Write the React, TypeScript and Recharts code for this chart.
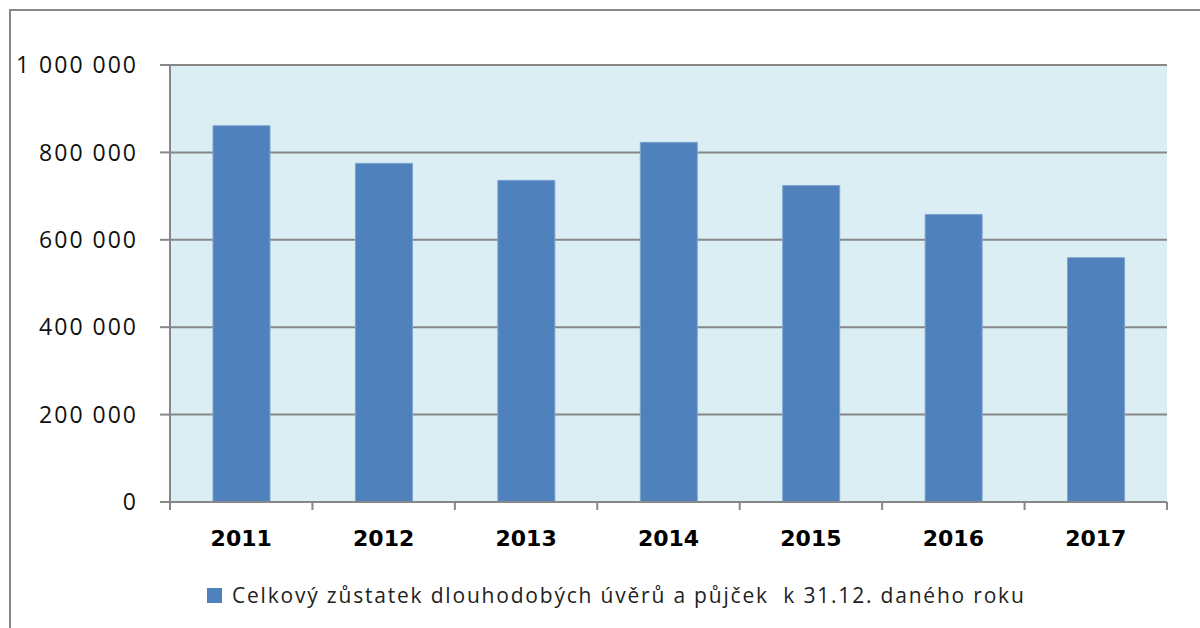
import { Bar, BarChart, CartesianGrid, Legend, XAxis, YAxis } from 'recharts';

const years = ['2011', '2012', '2013', '2014', '2015', '2016', '2017'];
const balances = [861000, 775000, 736000, 823000, 724000, 658000, 559000];
const yTicks = [0, 200000, 400000, 600000, 800000, 1000000];
const seriesName = 'Celkový zůstatek dlouhodobých úvěrů a půjček  k 31.12. daného roku';

const data = years.map((year, i) => ({ year, value: balances[i] }));

const gray = '#878787';
const W = 1200;
const H = 628;
const margin = { top: 65, right: 33, bottom: 10, left: 8 };
const yAxisWidth = 162;
const plotWidth = W - margin.left - margin.right - yAxisWidth;
const band = plotWidth / years.length;

const fmt = (v: number) => String(v).replace(/\B(?=(\d{3})+(?!\d))/g, ' ');

const YearTick = (props: any) => {
  const { x, y, payload, index } = props;
  const last = index === years.length - 1;
  return (
    <g>
      <line x1={x - band / 2} x2={x - band / 2} y1={y} y2={y + 8} stroke={gray} strokeWidth={2} />
      {last && <line x1={x + band / 2} x2={x + band / 2} y1={y} y2={y + 8} stroke={gray} strokeWidth={2} />}
      <text x={x} y={y + 44} textAnchor="middle" fontFamily="DejaVu Sans" fontWeight="bold" fontSize={22} fill="#000">
        {payload.value}
      </text>
    </g>
  );
};

const LegendBox = (props: any) => {
  const item = props.payload?.[0];
  if (!item) return null;
  return (
    <div style={{ height: 46, display: 'flex', alignItems: 'center', paddingLeft: 199 }}>
      <span style={{ width: 15, height: 15, background: item.color, display: 'inline-block', marginRight: 10 }} />
      <span style={{ fontFamily: 'Open Sans', fontSize: 21, letterSpacing: 1.8, color: '#222', whiteSpace: 'pre' }}>
        {item.value}
      </span>
    </div>
  );
};

export default function App() {
  return (
    <div style={{ position: 'fixed', left: 0, top: 0, width: W, height: H, background: '#fff' }}>
      <div
        style={{
          position: 'absolute', left: 9, top: 9, width: W, height: H,
          borderLeft: `2px solid ${gray}`, borderTop: `2px solid ${gray}`,
        }}
      />
      <BarChart width={W} height={H} data={data} margin={margin} style={{ position: 'absolute', left: 0, top: 0 }}>
        <CartesianGrid vertical={false} stroke={gray} strokeWidth={2} fill="#DBEEF4" fillOpacity={1} />
        <XAxis
          dataKey="year"
          height={70}
          tickLine={false}
          tickSize={0}
          tickMargin={0}
          axisLine={{ stroke: gray, strokeWidth: 2 }}
          tick={<YearTick />}
          interval={0}
        />
        <YAxis
          width={yAxisWidth}
          domain={[0, 1000000]}
          ticks={yTicks}
          tickFormatter={fmt}
          tickSize={10}
          tickMargin={22}
          axisLine={{ stroke: gray, strokeWidth: 2 }}
          tickLine={{ stroke: gray, strokeWidth: 2 }}
          tick={{ fill: '#111', fontFamily: 'Open Sans', fontSize: 23, letterSpacing: 2 }}
        />
        <Legend verticalAlign="bottom" content={<LegendBox />} />
        <Bar dataKey="value" name={seriesName} fill="#4F81BD" stroke="#7EA2CF" strokeWidth={1} barSize={57} isAnimationActive={false} />
      </BarChart>
    </div>
  );
}
